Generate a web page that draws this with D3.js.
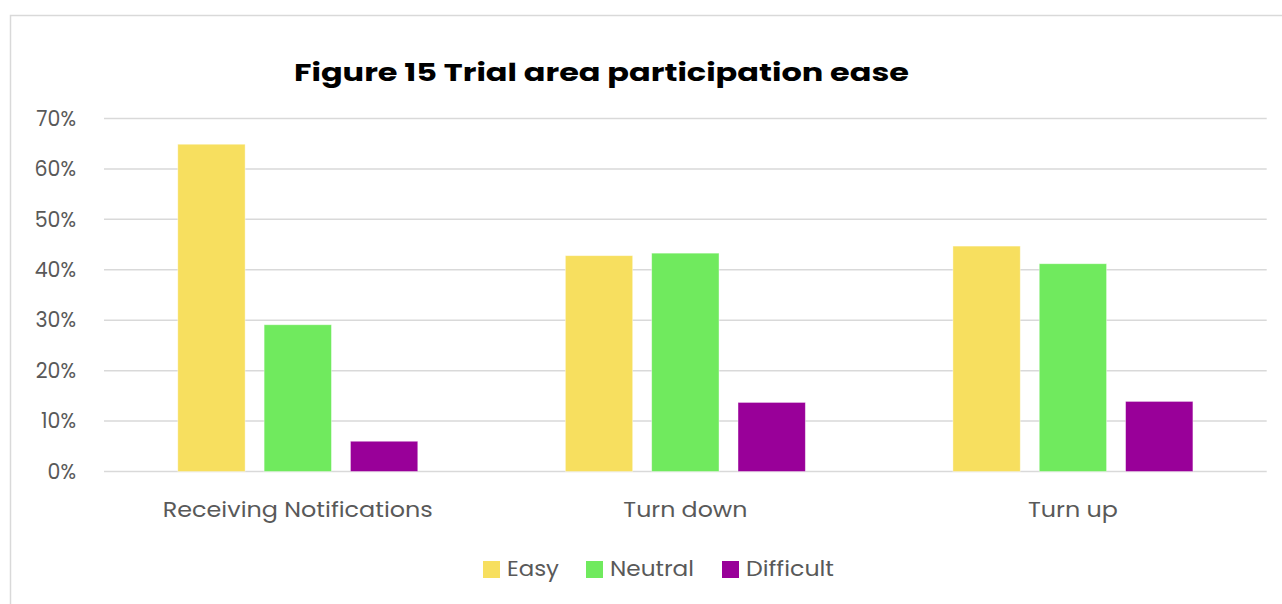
<!DOCTYPE html>
<html><head><meta charset="utf-8">
<script src="https://cdn.jsdelivr.net/npm/d3@7"></script>
<style>
html,body{margin:0;padding:0;background:#fff;}
svg{display:block;font-family:"Poppins","Open Sans","Noto Sans",sans-serif;}
</style></head>
<body><svg id="chart" width="1282" height="604"></svg>
<script>
const categories = ["Receiving Notifications", "Turn down", "Turn up"];
const seriesNames = ["Easy", "Neutral", "Difficult"];
const easy = [0.649, 0.428, 0.447];
const neutral = [0.291, 0.433, 0.412];
const difficult = [0.060, 0.137, 0.139];
const yTicks = [0, 0.1, 0.2, 0.3, 0.4, 0.5, 0.6, 0.7];
const colors = ["#f7df5f", "#70ea5e", "#990099"];
const title = "Figure 15 Trial area participation ease";

const seriesValues = [easy, neutral, difficult];
const svg = d3.select("#chart");

// outer chart border
svg.append("rect").attr("x", 10.5).attr("y", 15.5).attr("width", 1290).attr("height", 600)
  .attr("fill", "none").attr("stroke", "#d9d9d9").attr("stroke-width", 1.5);

const plotL = 104, plotR = 1266.7, plotT = 118.5, plotB = 471.5;
const y = d3.scaleLinear().domain([0, 0.7]).range([plotB, plotT]);
const x0 = d3.scaleBand().domain(categories).range([plotL, plotR]).padding(0);
const gw = 240, off = (x0.bandwidth() - gw) / 2;
const x1 = d3.scaleBand().domain(seriesNames).range([off, off + gw]).paddingInner(0.22).paddingOuter(0);
const color = d3.scaleOrdinal().domain(seriesNames).range(colors);

// grid
svg.append("g").selectAll("line").data(yTicks).join("line")
  .attr("x1", plotL).attr("x2", plotR)
  .attr("y1", d => y(d)).attr("y2", d => y(d))
  .attr("stroke", "#d9d9d9").attr("stroke-width", 1.5);

// y axis labels
const yAxis = d3.axisLeft(y).tickValues(yTicks).tickFormat(d3.format(".0%")).tickSize(0).tickPadding(0);
const gy = svg.append("g").attr("transform", "translate(76,0)").call(yAxis);
gy.select(".domain").remove();
gy.selectAll("text").attr("font-size", 20.5).attr("fill", "#595959")
  .attr("font-family", "Poppins, 'Open Sans', sans-serif").attr("dy", "0.33em");

// bars
const rows = [];
categories.forEach((c, i) => seriesNames.forEach((s, j) => rows.push({c, s, v: seriesValues[j][i]})));
svg.append("g").selectAll("rect").data(rows).join("rect")
  .attr("x", d => x0(d.c) + x1(d.s))
  .attr("y", d => y(d.v))
  .attr("width", x1.bandwidth())
  .attr("height", d => plotB - y(d.v))
  .attr("fill", d => color(d.s))
  .attr("stroke", "#ffffff").attr("stroke-opacity", 0.5).attr("stroke-width", 0.8);

// x axis labels
const xAxis = d3.axisBottom(x0).tickSize(0).tickPadding(0);
const gx = svg.append("g").attr("transform", `translate(0,${plotB})`).call(xAxis);
gx.select(".domain").remove();
const catWidths = {"Receiving Notifications": 270, "Turn down": 124, "Turn up": 90};
gx.selectAll("text").attr("font-size", 20.5).attr("fill", "#595959")
  .attr("font-family", "Poppins, 'Open Sans', sans-serif")
  .attr("y", 45).attr("dy", 0)
  .attr("textLength", d => catWidths[d]).attr("lengthAdjust", "spacingAndGlyphs");

// title
svg.append("text").attr("x", 601.5).attr("y", 81).attr("text-anchor", "middle")
  .attr("font-size", 25).attr("font-weight", "bold").attr("fill", "#000")
  .attr("textLength", 615).attr("lengthAdjust", "spacingAndGlyphs")
  .text(title);

// legend
const legendItems = [
  {name: "Easy", sx: 483, tw: 52},
  {name: "Neutral", sx: 586, tw: 84},
  {name: "Difficult", sx: 722, tw: 88}
];
const lg = svg.append("g");
legendItems.forEach(it => {
  lg.append("rect").attr("x", it.sx).attr("y", 561).attr("width", 17).attr("height", 17)
    .attr("fill", color(it.name));
  lg.append("text").attr("x", it.sx + 24).attr("y", 575.5).attr("font-size", 20.5)
    .attr("fill", "#595959").attr("textLength", it.tw).attr("lengthAdjust", "spacingAndGlyphs")
    .text(it.name);
});
</script>
</body></html>
